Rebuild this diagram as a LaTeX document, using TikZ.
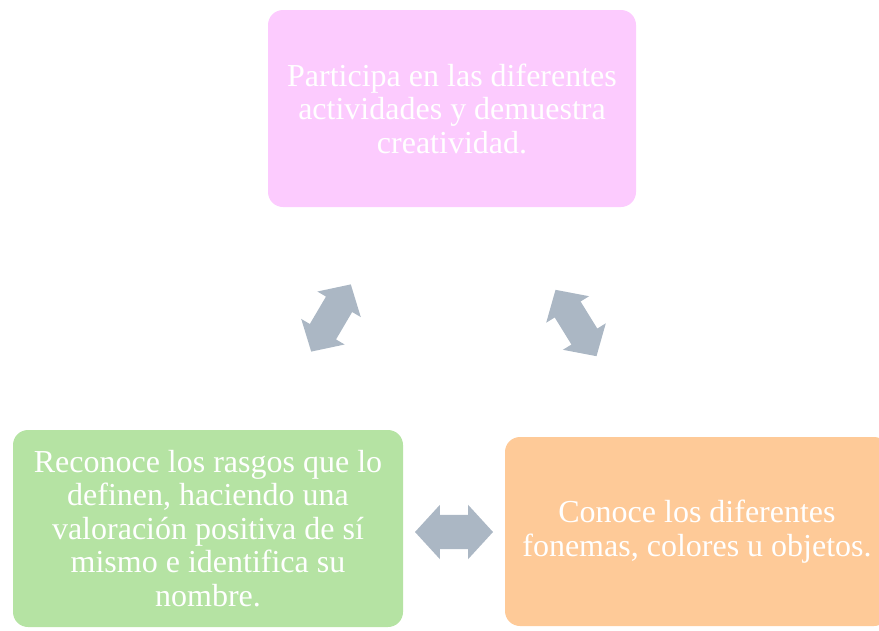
\documentclass[tikz,border=0pt]{standalone}
\usepackage{fontspec}
\setmainfont{Liberation Serif}
\usetikzlibrary{shapes.arrows}
\definecolor{pinkbox}{RGB}{252,203,254}
\definecolor{greenbox}{RGB}{181,227,163}
\definecolor{orangebox}{RGB}{254,202,152}
\definecolor{arrowgray}{RGB}{171,183,196}
\tikzset{
  card/.style={rectangle, rounded corners=15pt, draw=none, text=white, align=center,
    font=\fontsize{32}{33.5}\selectfont, inner sep=0pt},
  dblarrow/.style={double arrow, fill=arrowgray, draw=none, inner xsep=0pt,
    minimum height=78pt, double arrow tip angle=95},
}
\begin{document}
\begin{tikzpicture}[x=1pt,y=-1pt]
\useasboundingbox (0,0) rectangle (879,630);
\clip (0,0) rectangle (879,630);
\node[card, fill=pinkbox, minimum width=368pt, minimum height=197pt] (top) at (452,108.5)
  {Participa en las diferentes\\actividades y demuestra\\creatividad.};
\node[card, fill=greenbox, minimum width=390pt, minimum height=197pt] (left) at (208,528.5)
  {Reconoce los rasgos que lo\\definen, haciendo una\\valoración positiva de sí\\mismo e identifica su\\nombre.};
\node[card, fill=orangebox, minimum width=384pt, minimum height=189pt] (right) at (697,531.5)
  {Conoce los diferentes\\fonemas, colores u objetos.};
\node[dblarrow, inner ysep=17pt, double arrow head extend=10pt] (harrow) at (454,532) {};
\node[dblarrow, inner ysep=15pt, double arrow head extend=10pt, rotate=59.5] (larrow) at (331,318) {};
\node[dblarrow, inner ysep=15pt, double arrow head extend=10pt, rotate=-58.3] (rarrow) at (576,323) {};
\end{tikzpicture}
\end{document}
